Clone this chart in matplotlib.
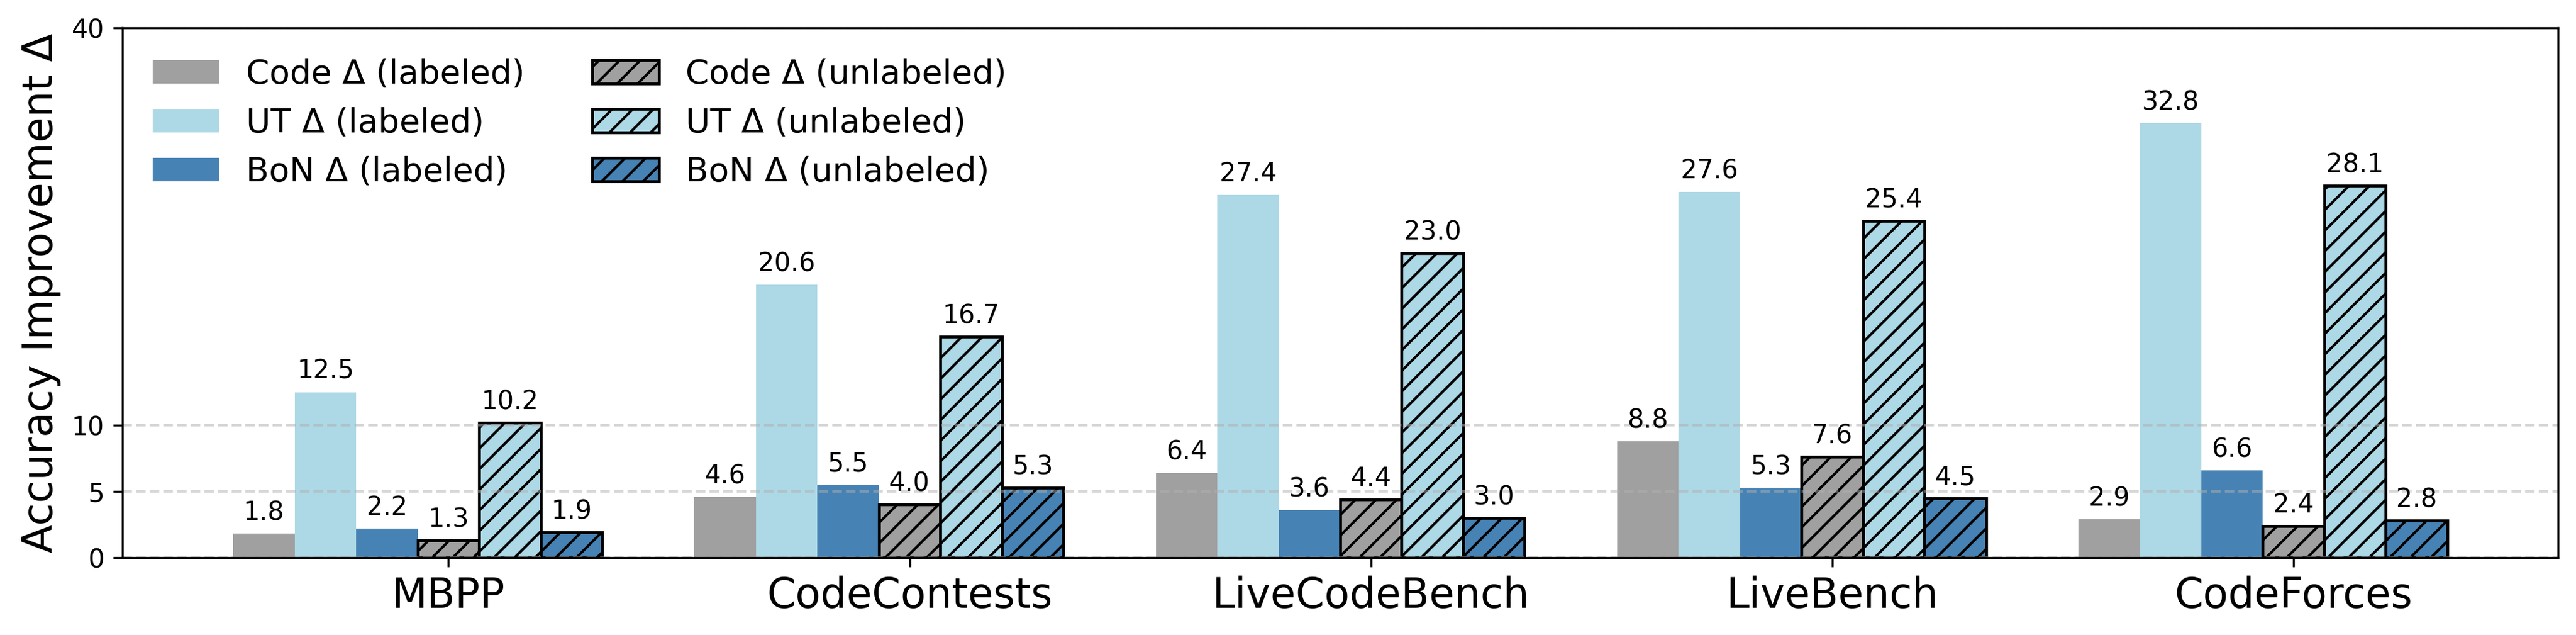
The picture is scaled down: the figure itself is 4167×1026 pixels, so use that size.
import numpy as np
import matplotlib
matplotlib.use("Agg")
import matplotlib.pyplot as plt

categories = ["MBPP", "CodeContests", "LiveCodeBench", "LiveBench", "CodeForces"]
code_labeled = [1.8, 4.6, 6.4, 8.8, 2.9]
ut_labeled = [12.5, 20.6, 27.4, 27.6, 32.8]
bon_labeled = [2.2, 5.5, 3.6, 5.3, 6.6]
code_unlabeled = [1.3, 4.0, 4.4, 7.6, 2.4]
ut_unlabeled = [10.2, 16.7, 23.0, 25.4, 28.1]
bon_unlabeled = [1.9, 5.3, 3.0, 4.5, 2.8]
series_names = ["Code Δ (labeled)", "UT Δ (labeled)", "BoN Δ (labeled)",
                "Code Δ (unlabeled)", "UT Δ (unlabeled)", "BoN Δ (unlabeled)"]
yticks = [0, 5, 10, 40]

series = [code_labeled, ut_labeled, bon_labeled, code_unlabeled, ut_unlabeled, bon_unlabeled]
colors = ["#a0a0a0", "#add8e6", "#4682b4", "#a0a0a0", "#add8e6", "#4682b4"]

fig = plt.figure(figsize=(4167 / 300, 1026 / 300), dpi=300)
ax = fig.add_axes([198 / 4167, 1 - 901 / 1026, (4138 - 198) / 4167, (901 - 45) / 1026])

x = np.arange(len(categories))
w = 0.8 / 6
for i, (vals, col, name) in enumerate(zip(series, colors, series_names)):
    if i < 3:
        bars = ax.bar(x + (i - 3) * w, vals, w, color=col, label=name, edgecolor="none")
    else:
        bars = ax.bar(x + (i - 3) * w, vals, w, color=col, label=name,
                      edgecolor="black", linewidth=1.1, hatch="///")
    for b, v in zip(bars, vals):
        ax.annotate(f"{v:.1f}", (b.get_x() + b.get_width() / 2, b.get_height()),
                    xytext=(0, 3), textcoords="offset points",
                    ha="center", va="bottom", fontsize=10)

ax.set_ylim(0, 40)
ax.set_yticks(yticks)
ax.set_xticks(x)
ax.set_xticklabels(categories, fontsize=16)
ax.tick_params(axis="y", labelsize=10)
ax.set_ylabel("Accuracy Improvement Δ", fontsize=16)
ax.grid(axis="y", linestyle="--", linewidth=1.0, alpha=0.5)
ax.legend(ncol=2, frameon=False, fontsize=13, loc="upper left")

fig.savefig("out.png", dpi=300)
